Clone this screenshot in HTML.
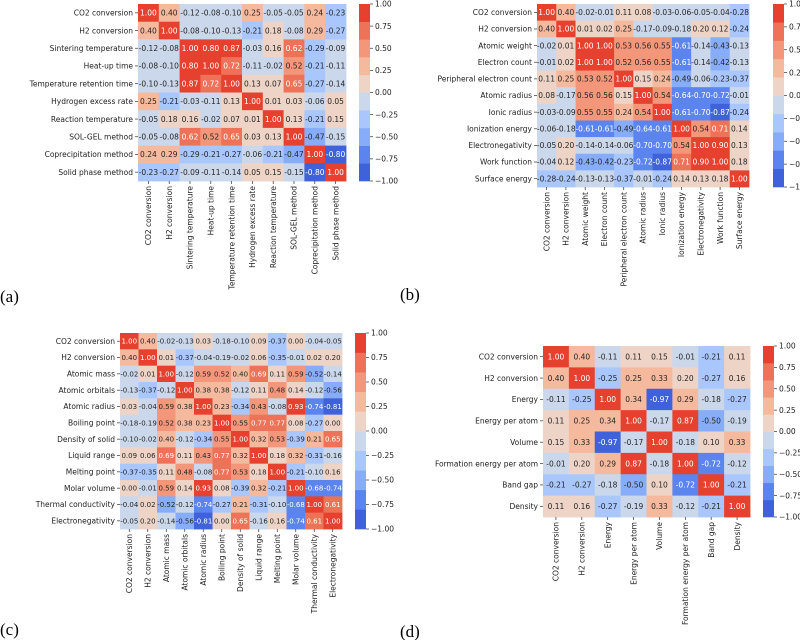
<!DOCTYPE html>
<html><head><meta charset="utf-8">
<style>
body{margin:0;background:#fff;}
svg{display:block;}
text{font-family:"DejaVu Sans","Liberation Sans",sans-serif;}
.pl{font-family:"Liberation Serif",serif;font-size:17px;}
</style></head>
<body>
<svg id="fig" width="800" height="640" viewBox="0 0 800 640">
<text class="pl" x="0" y="302">(a)</text>
<text class="pl" x="400" y="300">(b)</text>
<text class="pl" x="0" y="635">(c)</text>
<text class="pl" x="400" y="637">(d)</text>
</svg>
<script>
const labelsA=["CO2 conversion","H2 conversion","Sintering temperature","Heat-up time","Temperature retention time","Hydrogen excess rate","Reaction temperature","SOL-GEL method","Coprecipitation method","Solid phase method"];
const valuesA=[
[1.00,0.40,-0.12,-0.08,-0.10,0.25,-0.05,-0.05,0.24,-0.23],
[0.40,1.00,-0.08,-0.10,-0.13,-0.21,0.18,-0.08,0.29,-0.27],
[-0.12,-0.08,1.00,0.80,0.87,-0.03,0.16,0.62,-0.29,-0.09],
[-0.08,-0.10,0.80,1.00,0.72,-0.11,-0.02,0.52,-0.21,-0.11],
[-0.10,-0.13,0.87,0.72,1.00,0.13,0.07,0.65,-0.27,-0.14],
[0.25,-0.21,-0.03,-0.11,0.13,1.00,0.01,0.03,-0.06,0.05],
[-0.05,0.18,0.16,-0.02,0.07,0.01,1.00,0.13,-0.21,0.15],
[-0.05,-0.08,0.62,0.52,0.65,0.03,0.13,1.00,-0.47,-0.15],
[0.24,0.29,-0.29,-0.21,-0.27,-0.06,-0.21,-0.47,1.00,-0.80],
[-0.23,-0.27,-0.09,-0.11,-0.14,0.05,0.15,-0.15,-0.80,1.00]];
const labelsB=["CO2 conversion","H2 conversion","Atomic weight","Electron count","Peripheral electron count","Atomic radius","Ionic radius","Ionization energy","Electronegativity","Work function","Surface energy"];
const valuesB=[
[1.00,0.40,-0.02,-0.01,0.11,0.08,-0.03,-0.06,-0.05,-0.04,-0.28],
[0.40,1.00,0.01,0.02,0.25,-0.17,-0.09,-0.18,0.20,0.12,-0.24],
[-0.02,0.01,1.00,1.00,0.53,0.56,0.55,-0.61,-0.14,-0.43,-0.13],
[-0.01,0.02,1.00,1.00,0.52,0.56,0.55,-0.61,-0.14,-0.42,-0.13],
[0.11,0.25,0.53,0.52,1.00,0.15,0.24,-0.49,-0.06,-0.23,-0.37],
[0.08,-0.17,0.56,0.56,0.15,1.00,0.54,-0.64,-0.70,-0.72,-0.01],
[-0.03,-0.09,0.55,0.55,0.24,0.54,1.00,-0.61,-0.70,-0.87,-0.24],
[-0.06,-0.18,-0.61,-0.61,-0.49,-0.64,-0.61,1.00,0.54,0.71,0.14],
[-0.05,0.20,-0.14,-0.14,-0.06,-0.70,-0.70,0.54,1.00,0.90,0.13],
[-0.04,0.12,-0.43,-0.42,-0.23,-0.72,-0.87,0.71,0.90,1.00,0.18],
[-0.28,-0.24,-0.13,-0.13,-0.37,-0.01,-0.24,0.14,0.13,0.18,1.00]];
const labelsC=["CO2 conversion","H2 conversion","Atomic mass","Atomic orbitals","Atomic radius","Boiling point","Density of solid","Liquid range","Melting point","Molar volume","Thermal conductivity","Electronegativity"];
const valuesC=[
[1.00,0.40,-0.02,-0.13,0.03,-0.18,-0.10,0.09,-0.37,0.00,-0.04,-0.05],
[0.40,1.00,0.01,-0.37,-0.04,-0.19,-0.02,0.06,-0.35,-0.01,0.02,0.20],
[-0.02,0.01,1.00,-0.12,0.59,0.52,0.40,0.69,0.11,0.59,-0.52,-0.14],
[-0.13,-0.37,-0.12,1.00,0.38,0.38,-0.12,0.11,0.48,0.14,-0.12,-0.56],
[0.03,-0.04,0.59,0.38,1.00,0.23,-0.34,0.43,-0.08,0.93,-0.74,-0.81],
[-0.18,-0.19,0.52,0.38,0.23,1.00,0.55,0.77,0.77,0.08,-0.27,-0.00],
[-0.10,-0.02,0.40,-0.12,-0.34,0.55,1.00,0.32,0.53,-0.39,0.21,0.65],
[0.09,0.06,0.69,0.11,0.43,0.77,0.32,1.00,0.18,0.32,-0.31,-0.16],
[-0.37,-0.35,0.11,0.48,-0.08,0.77,0.53,0.18,1.00,-0.21,-0.10,0.16],
[0.00,-0.01,0.59,0.14,0.93,0.08,-0.39,0.32,-0.21,1.00,-0.68,-0.74],
[-0.04,0.02,-0.52,-0.12,-0.74,-0.27,0.21,-0.31,-0.10,-0.68,1.00,0.61],
[-0.05,0.20,-0.14,-0.56,-0.81,-0.00,0.65,-0.16,0.16,-0.74,0.61,1.00]];
const labelsD=["CO2 conversion","H2 conversion","Energy","Energy per atom","Volume","Formation energy per atom","Band gap","Density"];
const valuesD=[
[1.00,0.40,-0.11,0.11,0.15,-0.01,-0.21,0.11],
[0.40,1.00,-0.25,0.25,0.33,0.20,-0.27,0.16],
[-0.11,-0.25,1.00,0.34,-0.97,0.29,-0.18,-0.27],
[0.11,0.25,0.34,1.00,-0.17,0.87,-0.50,-0.19],
[0.15,0.33,-0.97,-0.17,1.00,-0.18,0.10,0.33],
[-0.01,0.20,0.29,0.87,-0.18,1.00,-0.72,-0.12],
[-0.21,-0.27,-0.18,-0.50,0.10,-0.72,1.00,-0.21],
[0.11,0.16,-0.27,-0.19,0.33,-0.12,-0.21,1.00]];
const cbTicks=[1,0.75,0.5,0.25,0,-0.25,-0.5,-0.75,-1];
const palette=["#3f61d9","#5c84ee","#87adfa","#aac7fd","#cbd8ec","#eed4c6","#f5b99e","#f4967a","#ee7257","#e6412f"];

const NS="http://www.w3.org/2000/svg";
const svg=document.getElementById('fig');
function mk(tag,attrs,parent){const e=document.createElementNS(NS,tag);for(const k in attrs)e.setAttribute(k,attrs[k]);(parent||svg).appendChild(e);return e;}
function colorFor(v){let i=Math.floor((v+1)/0.2);if(i<0)i=0;if(i>9)i=9;return palette[i];}
function fmt(v){const s=Math.abs(v).toFixed(2);return (v<0?"-":"")+s;}

function heatmap(id,labels,values,L,T,R,B,cbX,fs){
  const g=mk('g',{});
  
  
  const n=labels.length,cw=(R-L)/n,ch=(B-T)/n;
  const xS=j=>L+j*cw, yS=i=>T+i*ch;
  for(let i=0;i<n;i++){for(let j=0;j<n;j++){
    const v=values[i][j];
    const r=mk('rect',{x:xS(j),y:yS(i),width:cw+0.4,height:ch+0.4,fill:colorFor(v)},g);
    
    
    const t=mk('text',{x:xS(j)+cw/2,y:yS(i)+ch/2+fs*0.36,'text-anchor':'middle','font-size':fs,fill:Math.abs(v)>=0.6?'#fff':'#262626'},g);
    t.textContent=fmt(v);
    
    
  }}
  for(let i=0;i<n;i++){
    const y=yS(i)+ch/2;
    mk('line',{x1:L-3,x2:L,y1:y,y2:y,stroke:'#333','stroke-width':0.7},g);
    const t=mk('text',{x:L-5,y:y+2.7,'text-anchor':'end','font-size':7.5,fill:'#222'},g);
    t.textContent=labels[i];
    
    
    const x=xS(i)+cw/2;
    mk('line',{x1:x,x2:x,y1:B,y2:B+3,stroke:'#333','stroke-width':0.7},g);
    const t2=mk('text',{x:0,y:0,'text-anchor':'end','font-size':7.5,fill:'#222',transform:`translate(${x+2.7},${B+5}) rotate(-90)`},g);
    t2.textContent=labels[i];
    
    
  }
  // colorbar
  const cb=mk('g',{},g);
  
  
  const cbw=11,bh=(B-T)/10;
  for(let k=0;k<10;k++){mk('rect',{x:cbX,y:T+(9-k)*bh,width:cbw,height:bh+0.3,fill:palette[k]},cb);}
  const cy=v=>T+(1-v)/2*(B-T);
  cbTicks.forEach(v=>{
    const y=cy(v);
    mk('line',{x1:cbX+cbw,x2:cbX+cbw+3,y1:y,y2:y,stroke:'#333','stroke-width':0.7},cb);
    const t=mk('text',{x:cbX+cbw+5,y:y+2.7,'font-size':7.5,fill:'#222'},cb);
    t.textContent=(v<0?"\u2212":"")+Math.abs(v).toFixed(2);
    
    
  });
}
heatmap('a',labelsA,valuesA,138,4,346,181,359,7.5);
heatmap('b',labelsB,valuesB,537,4,749,187,773,7.5);
heatmap('c',labelsC,valuesC,120,333,342,529,355,7);
heatmap('d',labelsD,valuesD,543,346,750,517,763,7.5);
</script>
</body></html>
